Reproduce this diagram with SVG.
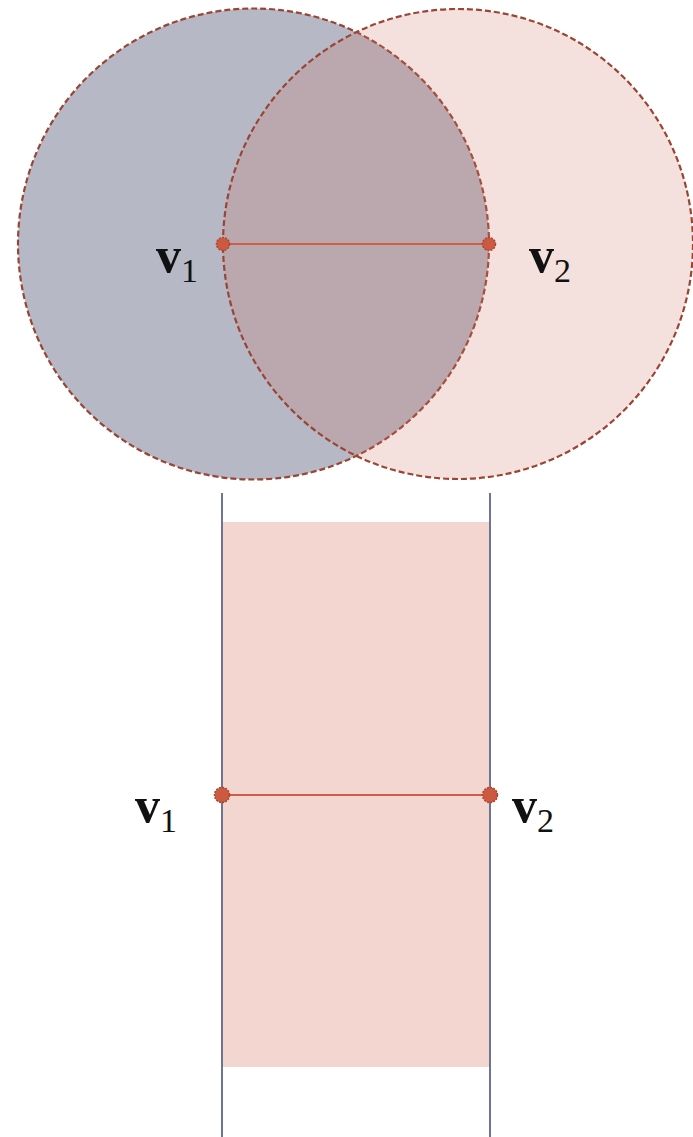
<svg xmlns="http://www.w3.org/2000/svg" width="693" height="1137" viewBox="0 0 693 1137">
<style>
.circ{stroke:#9a4533;stroke-width:2.2;stroke-dasharray:6 3}
.edge{stroke:#cc5f45;stroke-width:2}
.dot{fill:#cc5a40;stroke:#a84531;stroke-width:1.5;stroke-dasharray:2 1.2}
.rail{stroke:#6e7592;stroke-width:2}
.lbl{font-family:"Liberation Serif","DejaVu Serif",serif;font-weight:bold;fill:#111}
.v{font-size:50px}
.s{font-size:34px;font-weight:normal}
</style>
<rect width="693" height="1137" fill="#fff"/>
<g id="top-circles">
<circle id="circle-v1" class="circ" cx="253.5" cy="244" r="235.5" fill="#b6b8c6"/>
<circle id="circle-v2" class="circ" cx="458" cy="244" r="235" fill="rgb(205,114,96)" fill-opacity="0.22"/>
</g>
<g id="bottom-strip">
<rect id="strip" x="223" y="522" width="266" height="545" fill="#f3d6d0"/>
<line id="rail-left" class="rail" x1="222" y1="493" x2="222" y2="1137"/>
<line id="rail-right" class="rail" x1="490" y1="493" x2="490" y2="1137"/>
</g>
<g id="connectors">
<line class="edge" x1="223" y1="244" x2="489" y2="244"/>
<line class="edge" x1="222" y1="795" x2="490" y2="795"/>
</g>
<g id="node-v1-top"><circle class="dot" cx="223" cy="244" r="6.5"/><text class="lbl" x="156" y="272"><tspan class="v">v</tspan><tspan class="s" dy="10">1</tspan></text></g>
<g id="node-v2-top"><circle class="dot" cx="489" cy="244" r="6.5"/><text class="lbl" x="529" y="272"><tspan class="v">v</tspan><tspan class="s" dy="10">2</tspan></text></g>
<g id="node-v1-bottom"><circle class="dot" cx="222" cy="795" r="7.5"/><text class="lbl" x="135" y="822"><tspan class="v">v</tspan><tspan class="s" dy="10">1</tspan></text></g>
<g id="node-v2-bottom"><circle class="dot" cx="490" cy="795" r="7.5"/><text class="lbl" x="512" y="822"><tspan class="v">v</tspan><tspan class="s" dy="10">2</tspan></text></g>
</svg>
